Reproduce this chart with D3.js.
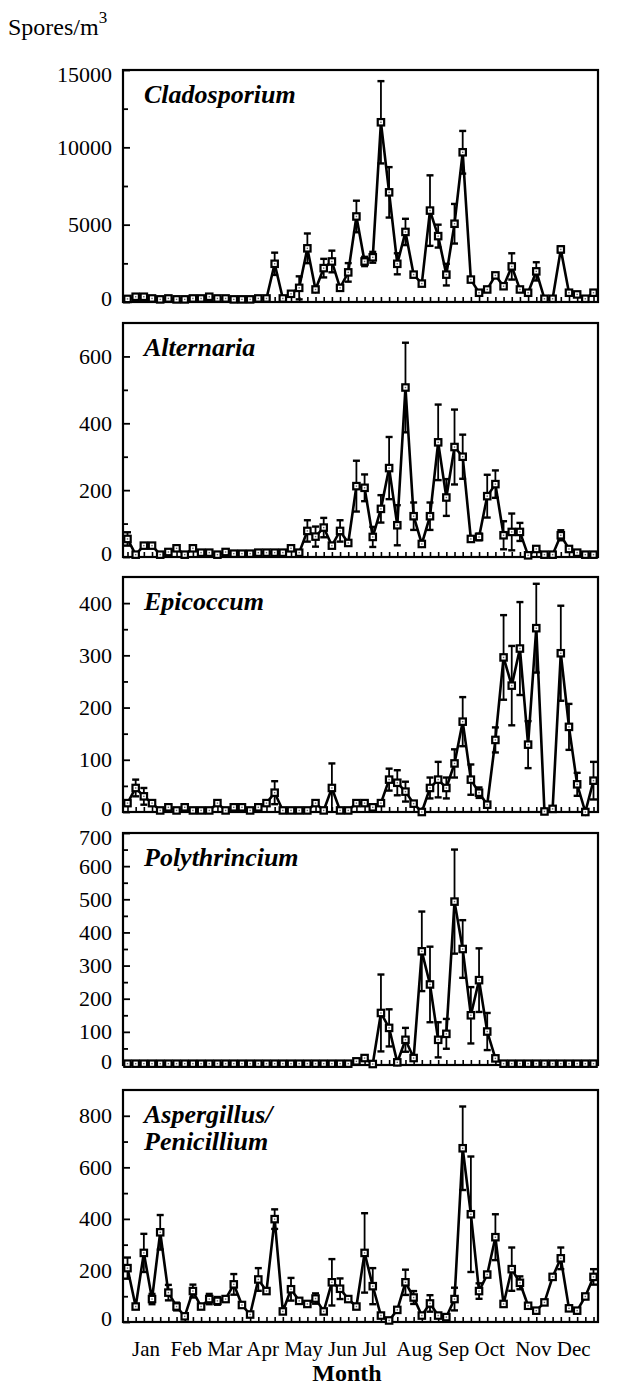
<!DOCTYPE html>
<html>
<head>
<meta charset="utf-8">
<script src="https://cdn.jsdelivr.net/npm/d3@7"></script>
<style>
  body { margin: 0; background: #fff; }
  svg { display: block; }
  svg text { font-family: "Liberation Serif", "Times New Roman", Times, serif !important; fill: #000; }
</style>
</head>
<body>
<div></div>
<script>
// weekly spore counts, 58 samples over the year
const months = ["Jan", "Feb", "Mar", "Apr", "May", "Jun", "Jul", "Aug", "Sep", "Oct", "Nov", "Dec"];

const cladoMean = [200,340,340,230,170,230,170,170,230,230, 340,230,230,170,170,170,230,230,2470,230,
  530,915,3470,810,2190,2620,915,1915,5530,2620, 2890,11620,7090,2470,4530,1770,1190,5910,4260,1770,
  5060,9680,1450,600,810,1720,1020,2300,810,600, 1980,210,210,3400,600,490,210,600];
const cladoSE = [0,0,0,0,0,0,0,0,0,0, 0,0,0,0,0,0,0,0,720,0,
  150,745,960,0,600,700,0,600,1020,300, 350,2660,1630,680,850,0,0,2280,740,700,
  1280,1380,0,0,0,0,0,850,0,0, 590,0,0,200,0,0,0,0];

const altMean = [54,7,34,34,7,15,26,7,26,13, 13,7,15,10,10,10,13,13,13,13,
  26,13,78,61,88,34,78,42,212,207, 60,144,266,95,507,122,39,122,343,178,
  329,300,54,60,182,218,65,75,75,5, 24,7,7,65,24,13,7,7];
const altSE = [20,0,0,0,0,0,0,0,0,0, 0,0,0,0,0,0,0,0,0,0,
  0,0,32,30,29,0,32,0,76,40, 30,41,93,60,134,41,0,41,113,55,
  112,66,0,10,64,41,42,55,27,0, 0,0,0,15,0,0,0,0];

const epiMean = [17,46,30,17,3,9,3,9,3,3, 3,17,3,9,9,3,9,17,37,3,
  3,3,3,17,3,46,3,3,17,17, 9,17,62,56,39,16,0,46,62,46,
  93,173,62,37,14,138,296,242,313,129, 352,1,6,304,163,53,0,60];
const epiSE = [0,16,16,0,0,0,0,0,0,0, 0,0,0,0,0,0,0,0,22,0,
  0,0,0,0,0,47,0,0,0,0, 0,0,21,24,19,0,0,20,34,20,
  27,47,29,10,0,24,81,76,89,45, 85,0,0,91,44,22,0,36];

const polyMean = [4,4,4,4,4,4,4,4,4,4, 4,4,4,4,4,4,4,4,4,4,
  4,4,4,4,4,4,4,4,11,21, 3,157,112,8,76,21,343,243,76,94,
  493,350,150,256,101,20,4,4,4,4, 4,4,4,4,4,4,4,4];
const polySE = [0,0,0,0,0,0,0,0,0,0, 0,0,0,0,0,0,0,0,0,0,
  0,0,0,0,0,0,0,0,0,0, 0,116,56,0,36,0,120,114,53,45,
  157,87,85,96,56,0,0,0,0,0, 0,0,0,0,0,0,0,0];

const aspMean = [209,60,268,89,348,114,60,22,120,60, 89,82,89,146,66,29,165,120,399,41,
  127,82,70,91,41,154,129,89,60,268, 139,25,6,47,154,95,25,72,25,19,
  89,674,418,120,184,329,70,205,152,63, 44,76,175,247,53,44,99,175];
const aspSE = [41,0,74,20,67,30,15,0,25,0, 20,15,0,40,0,0,44,0,38,0,
  44,0,0,20,0,90,40,0,0,154, 70,0,0,0,49,25,0,32,0,0,
  44,162,224,30,0,89,0,84,25,0, 0,0,0,42,0,0,0,30];

const names = [["Cladosporium"], ["Alternaria"], ["Epicoccum"], ["Polythrincium"], ["Aspergillus/", "Penicillium"]];
const means = [cladoMean, altMean, epiMean, polyMean, aspMean];
const ses = [cladoSE, altSE, epiSE, polySE, aspSE];
const yMax = [15000, 700, 450, 700, 900];
const majorTicks = [[0,5000,10000,15000], [0,200,400,600], [0,100,200,300,400],
  [0,100,200,300,400,500,600,700], [0,200,400,600,800]];
const minorTicks = [[2500,7500,12500], [100,300,500], [50,150,250,350],
  [50,150,250,350,450,550,650], [100,300,500,700]];

// layout
const WIDTH = 617;
const HEIGHT = 1386;
const LEFT = 123;
const RIGHT = 598;
const tops = [70, 323, 577, 833, 1090];
const bottoms = [302, 557, 812, 1065, 1322];
const SERIF = '"Liberation Serif", "Times New Roman", Times, serif';

const svg = d3.select("div").append("svg")
  .attr("width", WIDTH)
  .attr("height", HEIGHT)
  .attr("font-family", SERIF);

svg.append("rect").attr("width", WIDTH).attr("height", HEIGHT).attr("fill", "#fff");

const x = d3.scaleLinear().domain([-0.55, 57.55]).range([LEFT, RIGHT]);

// "Spores/m3" label
const yl = svg.append("text").attr("x", 8).attr("y", 35).style("font-size", "24px").text("Spores/m");
yl.append("tspan").attr("dy", -12).style("font-size", "17px").text("3");

function drawPanel(p) {
  const mean = means[p];
  const se = ses[p];
  const y = d3.scaleLinear().domain([0, yMax[p]]).range([bottoms[p], tops[p]]);
  const g = svg.append("g");

  // y axis: major ticks with labels, minor ticks inward
  const ax = g.append("g").attr("transform", `translate(${LEFT},0)`)
    .call(d3.axisLeft(y).tickValues(majorTicks[p]).tickSizeInner(-7).tickSizeOuter(0).tickPadding(11).tickFormat(d3.format("d")))
    .attr("font-family", SERIF).attr("font-size", 22);
  ax.select(".domain").remove();
  ax.selectAll("line").attr("stroke", "#000").attr("stroke-width", 1.8);
  // nudge the end labels a bit inside, like the original
  ax.selectAll("text")
    .attr("dy", d => d === 0 ? "0.15em" : (d === yMax[p] ? "0.5em" : "0.32em"));

  const mx = g.append("g").attr("transform", `translate(${LEFT},0)`)
    .call(d3.axisLeft(y).tickValues(minorTicks[p]).tickSizeInner(-5).tickSizeOuter(0).tickFormat(""));
  mx.select(".domain").remove();
  mx.selectAll("line").attr("stroke", "#000").attr("stroke-width", 1.8);

  // x ticks, one per sample, pointing up
  const bx = g.append("g").attr("transform", `translate(0,${bottoms[p]})`)
    .call(d3.axisBottom(x).tickValues(d3.range(mean.length)).tickSizeInner(-5).tickSizeOuter(0).tickFormat(""));
  bx.select(".domain").remove();
  bx.selectAll("line").attr("stroke", "#000").attr("stroke-width", 1.6);

  // frame
  g.append("rect")
    .attr("x", LEFT).attr("y", tops[p])
    .attr("width", RIGHT - LEFT).attr("height", bottoms[p] - tops[p])
    .attr("fill", "none").attr("stroke", "#000").attr("stroke-width", 2.2);

  // title
  const t = g.append("text")
    .attr("x", LEFT + 21).attr("y", tops[p] + 33)
    .style("font-size", "26px").style("font-weight", "bold").style("font-style", "italic");
  names[p].forEach((n, i) => t.append("tspan").attr("x", LEFT + 21).attr("dy", i ? 27 : 0).text(n));

  // line
  g.append("path")
    .datum(mean)
    .attr("fill", "none").attr("stroke", "#000").attr("stroke-width", 2.6).attr("stroke-linejoin", "miter")
    .attr("d", d3.line().x((d, i) => x(i)).y(d => y(d)));

  // error bars
  const eb = g.selectAll(".eb").data(mean.map((m, i) => ({ i, m, s: se[i] })).filter(d => d.s > 0))
    .enter().append("g").attr("stroke", "#000");
  eb.append("line")
    .attr("x1", d => x(d.i)).attr("x2", d => x(d.i))
    .attr("y1", d => y(Math.max(0, d.m - d.s))).attr("y2", d => y(d.m + d.s))
    .attr("stroke-width", 1.8);
  eb.append("line")
    .attr("x1", d => x(d.i) - 3.5).attr("x2", d => x(d.i) + 3.5)
    .attr("y1", d => y(d.m + d.s)).attr("y2", d => y(d.m + d.s))
    .attr("stroke-width", 2.4);
  eb.filter(d => d.m - d.s > 0).append("line")
    .attr("x1", d => x(d.i) - 3.5).attr("x2", d => x(d.i) + 3.5)
    .attr("y1", d => y(d.m - d.s)).attr("y2", d => y(d.m - d.s))
    .attr("stroke-width", 2.4);

  // markers: black square, white inside, dot in middle
  const mk = g.selectAll(".mk").data(mean).enter().append("g")
    .attr("transform", (d, i) => `translate(${x(i)},${y(d)})`);
  mk.append("rect").attr("x", -4.3).attr("y", -4.3).attr("width", 8.6).attr("height", 8.6).attr("fill", "#000");
  mk.append("rect").attr("x", -2.1).attr("y", -2.1).attr("width", 4.2).attr("height", 4.2).attr("fill", "#fff");
  mk.append("rect").attr("x", -0.7).attr("y", -0.7).attr("width", 1.4).attr("height", 1.4).attr("fill", "#666");
}

for (let p = 0; p < 5; p++) drawPanel(p);

// month labels under the last panel, set as one typed line
const wide = ["Jan", "Jul", "Oct"];
const mt = svg.append("text").attr("x", 132).attr("y", 1356)
  .style("font-size", "21px").style("white-space", "pre");
months.forEach((m, i) => {
  mt.append("tspan").text(m + (i < months.length - 1 ? (wide.includes(m) ? "  " : " ") : ""));
});

svg.append("text").attr("x", 347).attr("y", 1381).attr("text-anchor", "middle")
  .style("font-size", "24px").style("font-weight", "bold").text("Month");
</script>
</body>
</html>
